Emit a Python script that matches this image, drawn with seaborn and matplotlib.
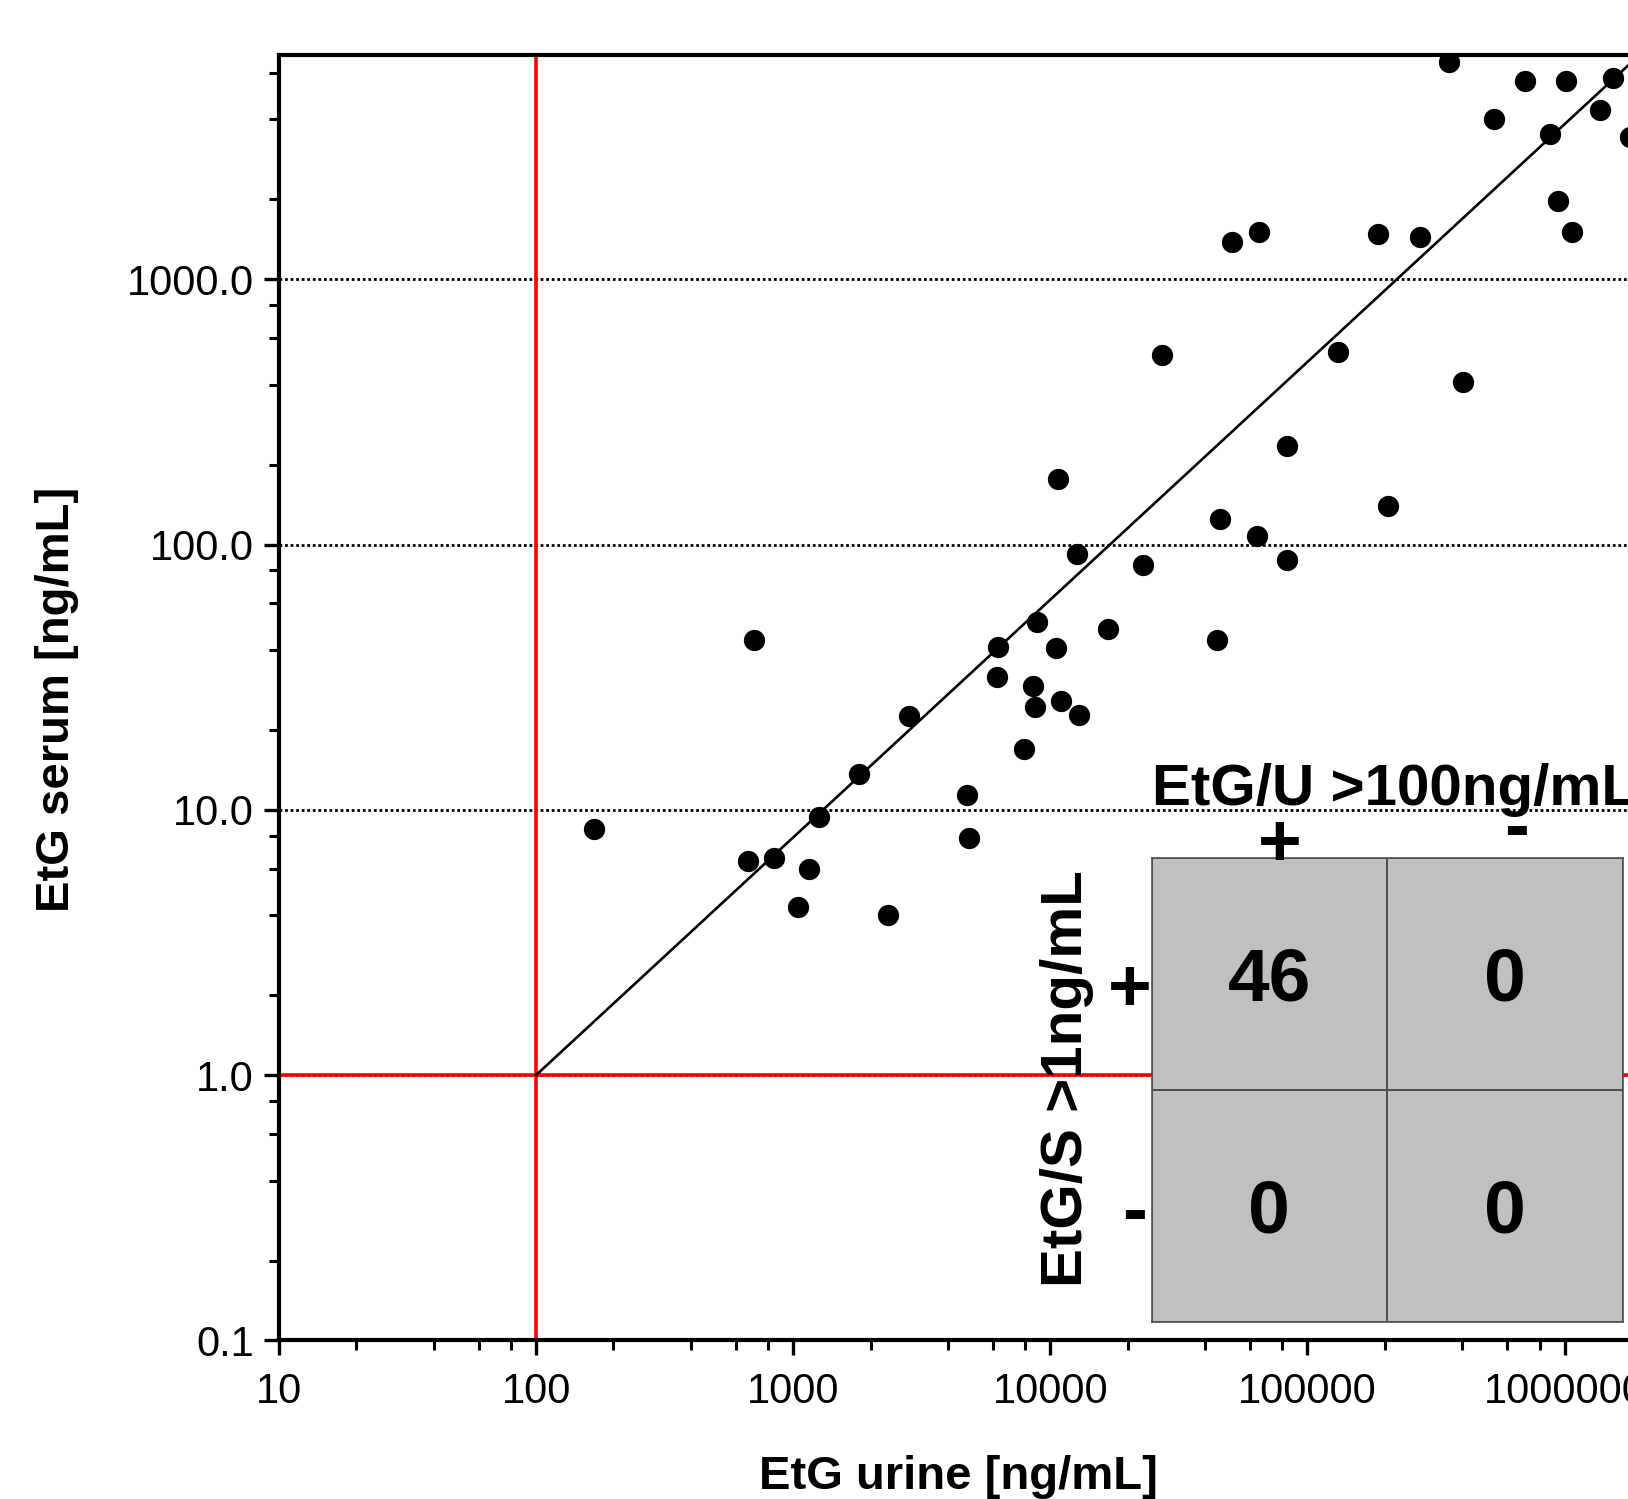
import numpy as np
import pandas as pd
import seaborn as sns
import matplotlib.pyplot as plt
from matplotlib.colors import ListedColormap
from matplotlib.ticker import LogLocator, FuncFormatter, NullFormatter

# EtG in urine vs serum (ng/mL)
etg_urine = [168, 665, 703, 840, 1045, 1157, 1259, 1808, 2345, 2830,
             4730, 4820, 6240, 6220, 7930, 8590, 8690, 8910, 10500, 10700,
             11000, 12700, 12900, 16800, 23000, 27300, 44700, 45700, 51000, 63500,
             64900, 83400, 83400, 132000, 189000, 206000, 273000, 354000, 403000, 530000,
             705000, 877000, 940000, 1009000, 1069000, 1377000, 1545000, 1800000]
etg_serum = [8.5, 6.4, 43.6, 6.6, 4.3, 6.0, 9.4, 13.7, 4.0, 22.6,
             11.4, 7.8, 41.0, 31.7, 16.9, 29.3, 24.4, 51.0, 40.7, 176.6,
             25.8, 92.3, 22.8, 47.9, 84.0, 520.0, 43.7, 124.7, 1377.0, 108.0,
             1503.0, 236.0, 87.5, 532.0, 1482.0, 140.0, 1448.0, 6590.0, 410.0, 4010.0,
             5580.0, 3540.0, 1977.0, 5580.0, 1500.0, 4340.0, 5730.0, 3440.0]

# cut-offs and fitted power line (log-log)
cutoff_urine = 100
cutoff_serum = 1.0
fit_slope = 0.896

# contingency table
table_cols = ['+', '-']
table_rows = ['+', '-']
table_counts = [[46, 0], [0, 0]]

x_ticks = [10, 100, 1000, 10000, 100000, 1000000, 10000000]
y_ticks = [0.1, 1, 10, 100, 1000]

df = pd.DataFrame({'urine': etg_urine, 'serum': etg_serum})

sns.set_style("ticks")
plt.rcParams['font.family'] = ['Liberation Sans', 'DejaVu Sans']
plt.rcParams['text.color'] = 'black'
plt.rcParams['axes.labelcolor'] = 'black'
plt.rcParams['xtick.color'] = 'black'
plt.rcParams['ytick.color'] = 'black'

W, H = 1628, 1499
fig = plt.figure(figsize=(W / 100, H / 100), dpi=100)

# main axes - extends past the right edge like the cropped original
ax = fig.add_axes([279 / W, 1 - 1340.4 / H, 1542.6 / W, 1285.4 / H])
ax.set_xscale('log')
ax.set_yscale('log')
ax.set_xlim(10, 1e7)
ax.set_ylim(0.1, 7000)

ax.yaxis.grid(True, which='major', color='black', ls=(0, (1, 1)), lw=2.0)
ax.xaxis.grid(False)
ax.set_axisbelow(True)

ax.axvline(cutoff_urine, color='#ff0000', lw=2.6, zorder=2)
ax.axhline(cutoff_serum, color='#ff0000', lw=2.6, zorder=2)

fit_x = np.logspace(np.log10(cutoff_urine), 7, 50)
fit_y = cutoff_serum * (fit_x / cutoff_urine) ** fit_slope
ax.plot(fit_x, fit_y, color='black', lw=1.9, zorder=3)

sns.scatterplot(data=df, x='urine', y='serum', ax=ax, color='black',
                s=235, linewidth=0, zorder=5, legend=False)

ax.xaxis.set_major_locator(plt.FixedLocator(x_ticks))
ax.yaxis.set_major_locator(plt.FixedLocator(y_ticks))
ax.xaxis.set_minor_locator(LogLocator(base=10, subs=(2, 4, 6, 8), numticks=20))
ax.yaxis.set_minor_locator(LogLocator(base=10, subs=(2, 4, 6, 8), numticks=20))
ax.xaxis.set_major_formatter(FuncFormatter(lambda v, p: f'{v:.0f}'))
ax.yaxis.set_major_formatter(FuncFormatter(lambda v, p: f'{v:.1f}'))
ax.xaxis.set_minor_formatter(NullFormatter())
ax.yaxis.set_minor_formatter(NullFormatter())
ax.tick_params(which='major', direction='out', length=11, width=2.4, labelsize=30,
               color='black', labelcolor='black')
ax.tick_params(which='minor', direction='out', length=7, width=2.2, color='black')
ax.tick_params(axis='x', which='major', pad=12)
ax.tick_params(axis='y', which='major', pad=7)
ax.tick_params(top=False, right=False, which='both')
for s in ax.spines.values():
    s.set_linewidth(3.0)
    s.set_color('black')
ax.set_xlabel('')
ax.set_ylabel('')

fig.text(958 / W, 1 - 1477 / H, 'EtG urine [ng/mL]', ha='center', va='center',
         fontsize=34, fontweight='bold', color='black')
fig.text(57 / W, 1 - 699 / H, 'EtG serum [ng/mL]', ha='center', va='center',
         rotation=90, fontsize=34, fontweight='bold', color='black')

# contingency table inset
ax_t = fig.add_axes([1151.5 / W, 1 - 1321.7 / H, 471.5 / W, 464.1 / H])
sns.heatmap(table_counts, ax=ax_t, cmap=ListedColormap(['#c0c0c0']), cbar=False,
            annot=True, fmt='d', linewidths=1.2, linecolor='#505050',
            xticklabels=False, yticklabels=False,
            annot_kws={'fontsize': 54, 'fontweight': 'bold', 'color': 'black',
                       'va': 'center_baseline'})
for s in ax_t.spines.values():
    s.set_visible(True)
    s.set_color('#505050')
    s.set_linewidth(1.2)
ax_t.set_zorder(10)

lab = dict(fontsize=54, fontweight='bold', ha='center', va='center_baseline',
           color='black', transform=ax_t.transAxes)
ax_t.text(0.2725, 1.040, table_cols[0], **lab)
ax_t.text(0.775, 1.075, table_cols[1], **lab)
ax_t.text(-0.046, 0.727, table_rows[0], **lab)
ax_t.text(-0.035, 0.248, table_rows[1], **lab)

ax_t.text(0.0, 1.113, 'EtG/U >100ng/mL', ha='left', va='baseline', color='black',
          fontsize=42, fontweight='bold', transform=ax_t.transAxes)
ax_t.text(-0.179, 0.523, 'EtG/S >1ng/mL', ha='center', va='center', rotation=90,
          color='black', fontsize=42, fontweight='bold', transform=ax_t.transAxes)

fig.savefig('out.png', dpi=100)
